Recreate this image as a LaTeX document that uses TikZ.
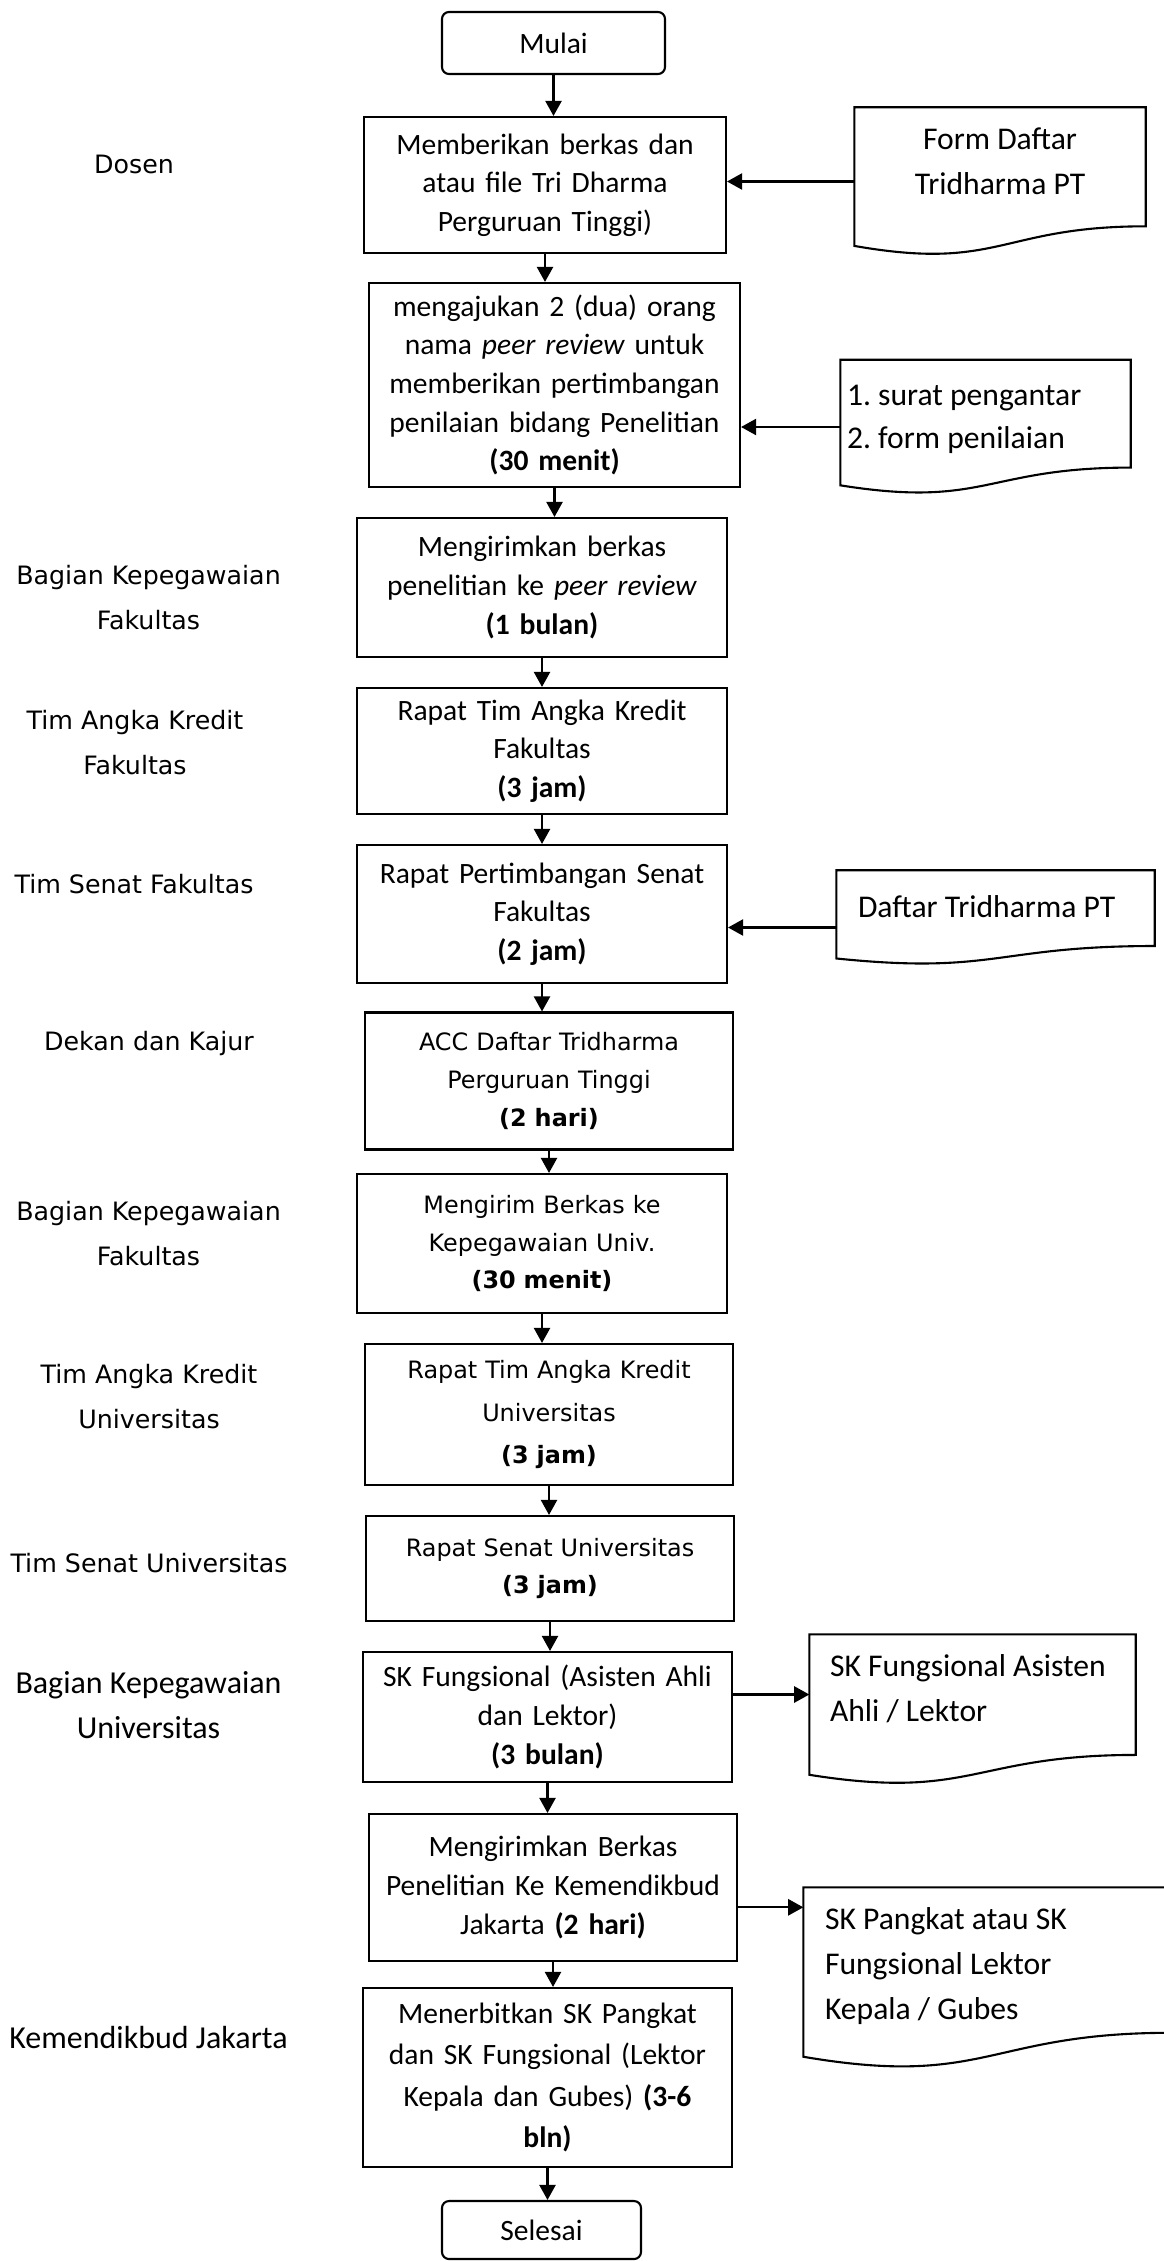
\documentclass[tikz,border=0pt]{standalone}
\usepackage{fontspec}
\setmainfont{Carlito}
\newfontfamily\vfont{DejaVu Sans}
\usetikzlibrary{arrows.meta,calc}

\tikzset{
	proc/.style={draw, line width=0.6pt, inner sep=0pt, align=center, font=\fontsize{8.4}{11}\selectfont},
	vproc/.style={proc, font=\vfont\fontsize{6.8}{10.7}\selectfont},
	term/.style={proc, rounded corners=0.07cm},
	docframe/.style={inner sep=0pt},
	doctext/.style={inner sep=0pt, align=left, font=\fontsize{9}{12.8}\selectfont},
	actor/.style={inner sep=0pt, align=center, font=\vfont\fontsize{7.2}{12.8}\selectfont},
	actorc/.style={actor, font=\fontsize{9.1}{12.8}\selectfont},
	arr/.style={line width=0.6pt, -{Triangle[length=4.3pt,width=4.6pt]}}
}

% outline of a document symbol with a wavy bottom
\newcommand{\docline}[1]{%
	\draw[line width=0.6pt] ($(#1.south west)!0.066!(#1.north west)$) -- (#1.north west) -- (#1.north east)
		-- ($(#1.south east)!0.198!(#1.north east)$)
		.. controls ($(#1.south)!0.198!(#1.north)$) and ($(#1.south)!-0.107!(#1.north)$)
		.. ($(#1.south west)!0.066!(#1.north west)$) -- cycle;}

\begin{document}
\begin{tikzpicture}
	\useasboundingbox (0,0) rectangle (11.64,-22.61);

	% main column
	\node[term, minimum width=2.23cm, minimum height=0.62cm] (mulai) at (5.535,-0.43) {Mulai};
	\node[proc, minimum width=3.62cm, minimum height=1.36cm, text width=3.5cm] (b1) at (5.45,-1.85) {Memberikan berkas dan\\atau file Tri Dharma\\Perguruan Tinggi)};
	\node[proc, minimum width=3.71cm, minimum height=2.04cm, text width=3.6cm] (b2) at (5.545,-3.85) {mengajukan 2 (dua) orang\\nama \emph{peer review} untuk\\memberikan pertimbangan\\penilaian bidang Penelitian\\\textbf{(30 menit)}};
	\node[proc, minimum width=3.70cm, minimum height=1.39cm, text width=3.6cm] (b3) at (5.42,-5.875) {Mengirimkan berkas\\penelitian ke \emph{peer review}\\\textbf{(1 bulan)}};
	\node[proc, minimum width=3.70cm, minimum height=1.26cm, text width=3.6cm] (b4) at (5.42,-7.51) {Rapat Tim Angka Kredit\\Fakultas\\\textbf{(3 jam)}};
	\node[proc, minimum width=3.70cm, minimum height=1.38cm, text width=3.6cm] (b5) at (5.42,-9.14) {Rapat Pertimbangan Senat\\Fakultas\\\textbf{(2 jam)}};
	\node[vproc, minimum width=3.68cm, minimum height=1.37cm, text width=3.6cm] (b6) at (5.49,-10.81) {ACC Daftar Tridharma\\Perguruan Tinggi\\\textbf{(2 hari)}};
	\node[vproc, minimum width=3.70cm, minimum height=1.39cm, text width=3.6cm] (b7) at (5.42,-12.435) {Mengirim Berkas ke\\Kepegawaian Univ.\\\textbf{(30 menit)}};
	\node[vproc, minimum width=3.68cm, minimum height=1.41cm, text width=3.6cm, font=\vfont\fontsize{6.8}{12}\selectfont] (b8) at (5.49,-14.145) {Rapat Tim Angka Kredit\\Universitas\\\textbf{(3 jam)}};
	\node[vproc, minimum width=3.68cm, minimum height=1.05cm, text width=3.6cm] (b9) at (5.50,-15.685) {Rapat Senat Universitas\\\textbf{(3 jam)}};
	\node[proc, minimum width=3.69cm, minimum height=1.30cm, text width=3.6cm] (b10) at (5.475,-17.17) {SK Fungsional (Asisten Ahli\\dan Lektor)\\\textbf{(3 bulan)}};
	\node[proc, minimum width=3.68cm, minimum height=1.47cm, text width=3.6cm] (b11) at (5.53,-18.875) {Mengirimkan Berkas\\Penelitian Ke Kemendikbud\\Jakarta \textbf{(2 hari)}};
	\node[proc, minimum width=3.69cm, minimum height=1.79cm, text width=3.6cm, font=\fontsize{8.4}{11.8}\selectfont] (b12) at (5.475,-20.775) {Menerbitkan SK Pangkat\\dan SK Fungsional (Lektor\\Kepala dan Gubes) \textbf{(3-6}\\\textbf{bln)}};
	\node[term, minimum width=1.99cm, minimum height=0.58cm] (selesai) at (5.415,-22.30) {Selesai};

	\draw[arr] (mulai.south) -- (mulai.south |- b1.north); \draw[arr] (b1.south) -- (b1.south |- b2.north);
	\draw[arr] (b2.south) -- (b2.south |- b3.north); \draw[arr] (b3.south) -- (b3.south |- b4.north);
	\draw[arr] (b4.south) -- (b4.south |- b5.north); \draw[arr] (b5.south) -- (b5.south |- b6.north);
	\draw[arr] (b6.south) -- (b6.south |- b7.north); \draw[arr] (b7.south) -- (b7.south |- b8.north);
	\draw[arr] (b8.south) -- (b8.south |- b9.north); \draw[arr] (b9.south) -- (b9.south |- b10.north);
	\draw[arr] (b10.south) -- (b10.south |- b11.north); \draw[arr] (b11.south) -- (b11.south |- b12.north);
	\draw[arr] (b12.south) -- (b12.south |- selesai.north);

	% documents
	\node[docframe, minimum width=2.90cm, minimum height=1.47cm] (d1) at (10.00,-1.815) {}; \docline{d1}
	\node[doctext, anchor=north, align=center] (d1t) at ([yshift=-0.2cm]d1.north) {Form Daftar\\Tridharma PT};
	\node[docframe, minimum width=2.89cm, minimum height=1.33cm] (d2) at (9.855,-4.27) {}; \docline{d2}
	\node[doctext, anchor=north west, font=\fontsize{9}{12.2}\selectfont] (d2t) at ([shift={(0.06,-0.25)}]d2.north west) {1.\ surat pengantar\\2.\ form penilaian};
	\node[docframe, minimum width=3.17cm, minimum height=0.93cm] (d3) at (9.955,-9.175) {}; \docline{d3}
	\node[doctext, anchor=north west] (d3t) at ([shift={(0.21,-0.25)}]d3.north west) {Daftar Tridharma PT};
	\node[docframe, minimum width=3.25cm, minimum height=1.49cm] (d4) at (9.725,-17.095) {}; \docline{d4}
	\node[doctext, anchor=north west] (d4t) at ([shift={(0.20,-0.20)}]d4.north west) {SK Fungsional Asisten\\Ahli / Lektor};
	\node[docframe, minimum width=3.66cm, minimum height=1.80cm] (d5) at (9.87,-19.78) {}; \docline{d5}
	\node[doctext, anchor=north west] (d5t) at ([shift={(0.21,-0.20)}]d5.north west) {SK Pangkat atau SK\\Fungsional Lektor\\Kepala / Gubes};

	\coordinate (d3in) at ([yshift=-0.1cm]d3.west);
	\coordinate (d4in) at ([yshift=0.15cm]d4.west);
	\coordinate (d5in) at ([yshift=-0.2cm]d5.north west);
	\draw[arr] (d1.west) -- (d1.west -| b1.east);
	\draw[arr] (d2.west) -- (d2.west -| b2.east);
	\draw[arr] (d3in) -- (d3in -| b5.east);
	\draw[arr] (d4in -| b10.east) -- (d4in);
	\draw[arr] (d5in -| b11.east) -- (d5in);

	% who does what
	\node[actor] (a1) at (1.34,-1.64) {Dosen};
	\node[actor] (a2) at (1.485,-5.975) {Bagian Kepegawaian\\Fakultas};
	\node[actor] (a3) at (1.35,-7.425) {Tim Angka Kredit\\Fakultas};
	\node[actor] (a4) at (1.34,-8.84) {Tim Senat Fakultas};
	\node[actor] (a5) at (1.49,-10.44) {Dekan dan Kajur};
	\node[actor] (a6) at (1.485,-12.335) {Bagian Kepegawaian\\Fakultas};
	\node[actor] (a7) at (1.49,-13.965) {Tim Angka Kredit\\Universitas};
	\node[actor] (a8) at (1.49,-15.63) {Tim Senat Universitas};
	\node[actorc] (a9) at (1.485,-17.055) {Bagian Kepegawaian\\Universitas};
	\node[actorc] (a10) at (1.485,-20.37) {Kemendikbud Jakarta};
\end{tikzpicture}
\end{document}
